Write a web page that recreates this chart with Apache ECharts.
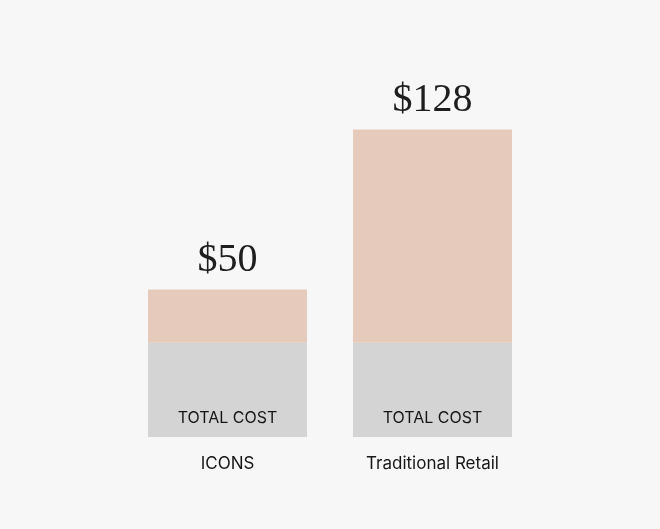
<!DOCTYPE html>
<html><head><meta charset="utf-8">
<script src="https://cdn.jsdelivr.net/npm/echarts@6/dist/echarts.min.js"></script>
<style>html,body{margin:0;padding:0;background:#f7f7f7}#c{width:660px;height:529px}</style>
</head><body><div id="c"></div>
<script>
const categories = ['ICONS', 'Traditional Retail'];
const totalLabels = ['$50', '$128'];
const baseCost = [46, 46];      // grey "TOTAL COST" segment (bar height units)
const extraCost = [26, 104];    // pink segment (bar height units)
const baseLabel = 'TOTAL COST';

const chart = echarts.init(document.getElementById('c'));
chart.setOption({
  backgroundColor: '#f7f7f7',
  animation: false,
  grid: { left: 125, right: 125, top: 109, bottom: 92 },
  xAxis: {
    type: 'category', data: categories,
    axisLine: { show: false }, axisTick: { show: false },
    axisLabel: { color: '#161616', fontFamily: 'Inter', fontSize: 17, margin: 18 }
  },
  yAxis: { type: 'value', min: 0, max: 160, show: false, splitLine: { show: false } },
  series: [
    {
      type: 'bar', stack: 's', barWidth: 159, data: baseCost,
      itemStyle: { color: '#d4d4d4' },
      label: {
        show: true, position: 'insideBottom', distance: 11,
        formatter: () => baseLabel,
        color: '#161616', fontFamily: 'Inter', fontSize: 16
      }
    },
    {
      type: 'bar', stack: 's', barWidth: 159, data: extraCost,
      itemStyle: { color: '#e6cbbc' },
      label: {
        show: true, position: 'top', distance: 9,
        formatter: p => totalLabels[p.dataIndex],
        color: '#1e1e1e', fontFamily: 'Liberation Serif', fontSize: 40
      }
    }
  ]
});
</script></body></html>
